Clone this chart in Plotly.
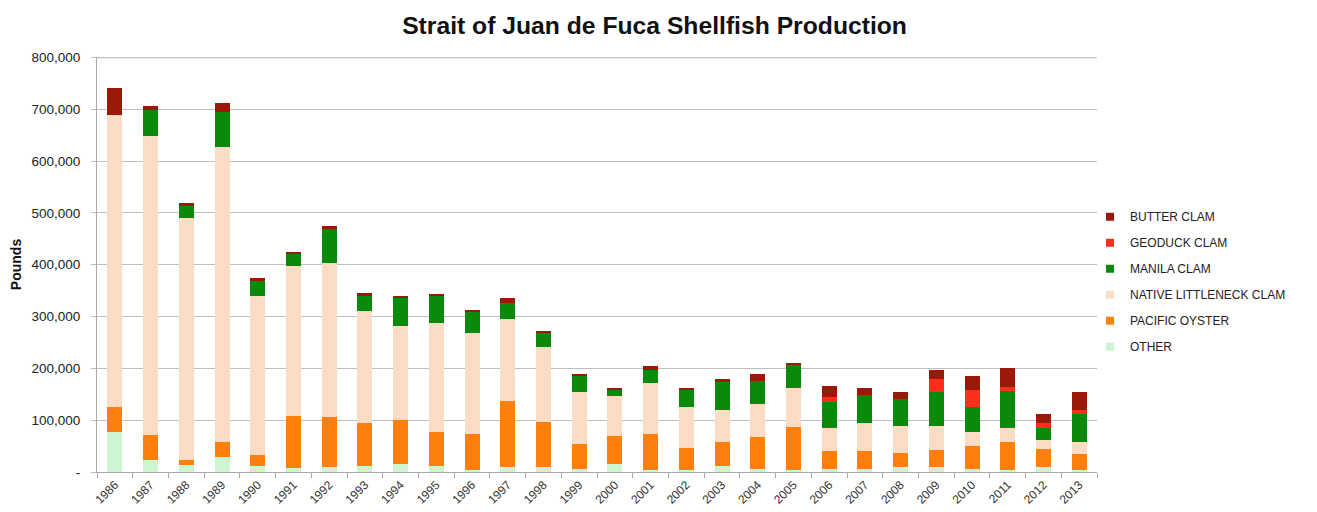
import plotly.graph_objects as go

years = [str(y) for y in range(1986, 2014)]

# values in thousands of pounds
other = [77, 24, 13, 28, 11, 7, 9, 11, 15, 11, 4, 10, 10, 5, 16, 3, 4, 12, 6, 4,
         6, 5, 9, 10, 5, 3, 10, 3]
pacific_oyster = [48, 48, 11, 30, 21, 102, 97, 83, 85, 66, 70, 128, 87, 49, 54, 71, 42, 45, 62, 82,
                  34, 35, 28, 32, 45, 54, 34, 32.5]
native_littleneck = [564, 576, 467, 569, 308, 289, 298, 217, 181, 210, 194, 157, 145, 101, 76, 98, 80, 62, 63, 77,
                     44.5, 55, 51, 46, 28, 27.5, 17, 21.5]
manila = [0, 51, 22, 67, 29, 24, 64.5, 29, 55, 53, 42, 32, 26, 32, 13, 25, 33, 55, 45, 45,
          51, 54, 52, 66, 47, 72.5, 23.5, 54.5]
geoduck = [0, 0, 0, 0, 0, 0, 0, 0, 0, 0, 0, 0, 0, 0, 0, 0, 0, 0, 0, 0,
           8.5, 0, 0, 26, 34, 8, 10.5, 9]
butter = [53, 8, 7, 19, 6, 2, 5.5, 6, 2, 4, 2.5, 9, 4, 2, 2, 7, 4, 6, 13, 3,
          22, 14, 15, 17, 25.5, 35, 16.5, 34.5]

series_names = ["OTHER", "PACIFIC OYSTER", "NATIVE LITTLENECK CLAM", "MANILA CLAM", "GEODUCK CLAM", "BUTTER CLAM"]
series_values = [other, pacific_oyster, native_littleneck, manila, geoduck, butter]
series_colors = ["#CCF5D2", "#FF7F0C", "#FCDCC4", "#0A8A0A", "#FF2D1C", "#9A1A0A"]

y_tick_vals = list(range(0, 800001, 100000))
y_tick_text = ["-"] + [f"{v:,}" for v in y_tick_vals[1:]]

fig = go.Figure()
# stacked bars, bottom to top
for name, vals, col in zip(series_names, series_values, series_colors):
    fig.add_trace(go.Bar(
        x=years, y=[v * 1000 for v in vals], name=name,
        marker=dict(color=col, line=dict(width=0)),
        showlegend=False, legendgroup=name,
    ))
# legend entries, top to bottom
for name, col in zip(series_names[::-1], series_colors[::-1]):
    fig.add_trace(go.Scatter(
        x=[None], y=[None], mode="markers", name=name, legendgroup=name,
        marker=dict(symbol="square", size=8, color=col),
        showlegend=True,
    ))

fig.update_layout(
    width=1317, height=512,
    barmode="stack", bargap=0.58,
    plot_bgcolor="white", paper_bgcolor="white",
    margin=dict(l=97, r=220, t=57, b=40, autoexpand=False),
    font=dict(family="Liberation Sans, Arial, sans-serif", color="#222222"),
    title=dict(text="<b>Strait of Juan de Fuca Shellfish Production</b>",
               x=0.497, xanchor="center", xref="container",
               y=1 - 25 / 512, yanchor="middle", yref="container",
               font=dict(size=24.7, color="#111111")),
    legend=dict(x=0.993, xanchor="left", y=0.65, yanchor="top",
                traceorder="grouped", tracegroupgap=7,
                font=dict(size=12, color="#222222"), itemwidth=30,
                bgcolor="rgba(0,0,0,0)"),
)

# top gridline (at the last y tick)
fig.add_shape(type="line", xref="paper", x0=0, x1=1, yref="y",
              y0=y_tick_vals[-1], y1=y_tick_vals[-1],
              line=dict(color="#BFBFBF", width=1.3), layer="below")

fig.update_xaxes(
    type="category", tickangle=-45,
    ticks="outside", tickson="boundaries", ticklen=5, tickcolor="#AAAAAA",
    showline=True, linecolor="#AAAAAA", linewidth=1.2,
    tickfont=dict(size=12, color="#333333"),
    showgrid=False,
)
fig.update_yaxes(
    range=[0, 801000], tickvals=y_tick_vals, ticktext=y_tick_text,
    ticks="outside", ticklen=5, tickcolor="#BBBBBB",
    showgrid=True, gridcolor="#BFBFBF", gridwidth=1.3,
    showline=True, linecolor="#AAAAAA", linewidth=1.2,
    tickfont=dict(size=13.5, color="#222222"),
    ticklabelstandoff=8,
    title=dict(text="<b>Pounds</b>", font=dict(size=14, color="#111111"), standoff=6),
    zeroline=False,
)

fig.write_html("out.html", config={"displayModeBar": False},
               post_script="document.body.style.margin='0';")
